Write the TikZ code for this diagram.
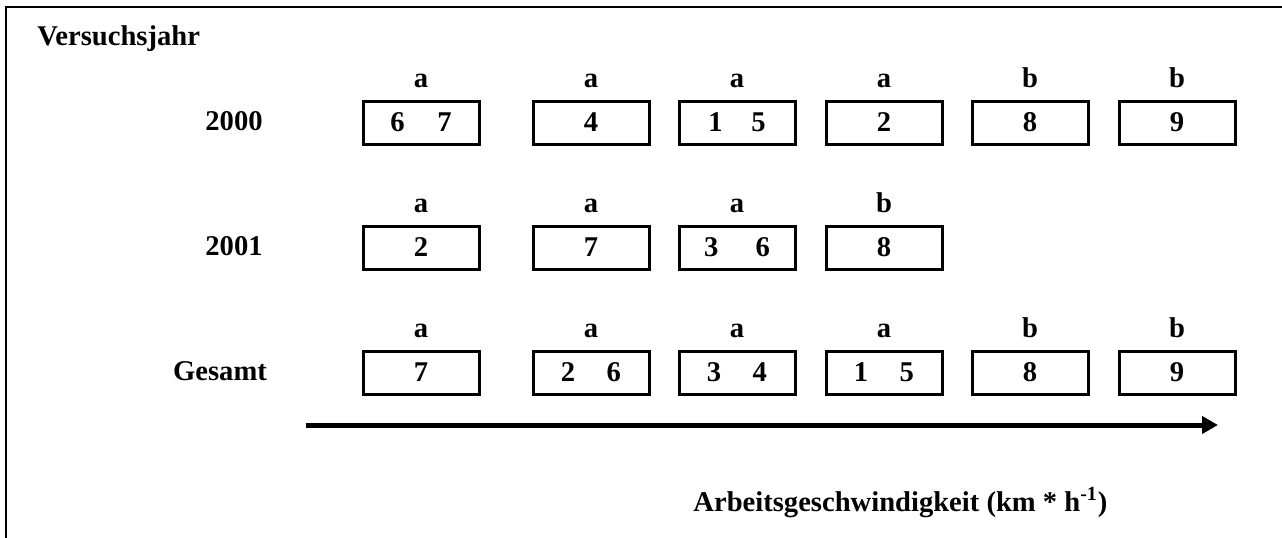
\documentclass[tikz,border=0pt]{standalone}
\usepackage{fontspec}
\setmainfont{Liberation Serif}
\usetikzlibrary{arrows.meta}
\begin{document}
\begin{tikzpicture}[x=0.5pt,y=-0.5pt,
  font=\fontsize{14.3}{17}\selectfont\bfseries,
  numbox/.style={draw, line width=1.5pt, minimum width=58pt, minimum height=21.5pt, inner sep=0pt},
  lbl/.style={anchor=base, inner sep=0pt},
  yearlbl/.style={anchor=base, inner sep=0pt},
  frameline/.style={line width=1pt},
  axis/.style={line width=2.5pt, -{Triangle[length=8pt,width=8.5pt]}}]
\useasboundingbox (0,0) rectangle (1282,537);
\draw[frameline] (6,545) -- (6,7) -- (1290,7);

\node[anchor=base west, inner sep=0pt] (title) at (37,45) {Versuchsjahr};

% row 2000
\node[yearlbl] (y1) at (234,130) {2000};
\node[numbox] (b11) at (421,122.5) {6\hspace{1.15em}7};
\node[numbox] (b12) at (591,122.5) {4};
\node[numbox] (b13) at (737,122.5) {1\hspace{1em}5};
\node[numbox] (b14) at (884,122.5) {2};
\node[numbox] (b15) at (1030,122.5) {8};
\node[numbox] (b16) at (1177,122.5) {9};
\node[lbl] (l11) at (421,87) {a};
\node[lbl] (l12) at (591,87) {a};
\node[lbl] (l13) at (737,87) {a};
\node[lbl] (l14) at (884,87) {a};
\node[lbl] (l15) at (1030,87) {b};
\node[lbl] (l16) at (1177,87) {b};

% row 2001
\node[yearlbl] (y2) at (234,255) {2001};
\node[numbox] (b21) at (421,247.5) {2};
\node[numbox] (b22) at (591,247.5) {7};
\node[numbox] (b23) at (737,247.5) {3\hspace{1.3em}6};
\node[numbox] (b24) at (884,247.5) {8};
\node[lbl] (l21) at (421,212) {a};
\node[lbl] (l22) at (591,212) {a};
\node[lbl] (l23) at (737,212) {a};
\node[lbl] (l24) at (884,212) {b};

% row Gesamt
\node[yearlbl] (y3) at (220,380) {Gesamt};
\node[numbox] (b31) at (421,372.5) {7};
\node[numbox] (b32) at (591,372.5) {2\hspace{1.1em}6};
\node[numbox] (b33) at (737,372.5) {3\hspace{1.1em}4};
\node[numbox] (b34) at (884,372.5) {1\hspace{1.1em}5};
\node[numbox] (b35) at (1030,372.5) {8};
\node[numbox] (b36) at (1177,372.5) {9};
\node[lbl] (l31) at (421,337) {a};
\node[lbl] (l32) at (591,337) {a};
\node[lbl] (l33) at (737,337) {a};
\node[lbl] (l34) at (884,337) {a};
\node[lbl] (l35) at (1030,337) {b};
\node[lbl] (l36) at (1177,337) {b};

\coordinate (as) at (306,425);
\coordinate (ae) at (1218,425);
\draw[axis] (as) -- (ae);

\node[anchor=base west, inner sep=0pt] (xlabel) at (693,511) {Arbeitsgeschwindigkeit (km * h\textsuperscript{-1})};
\end{tikzpicture}
\end{document}
